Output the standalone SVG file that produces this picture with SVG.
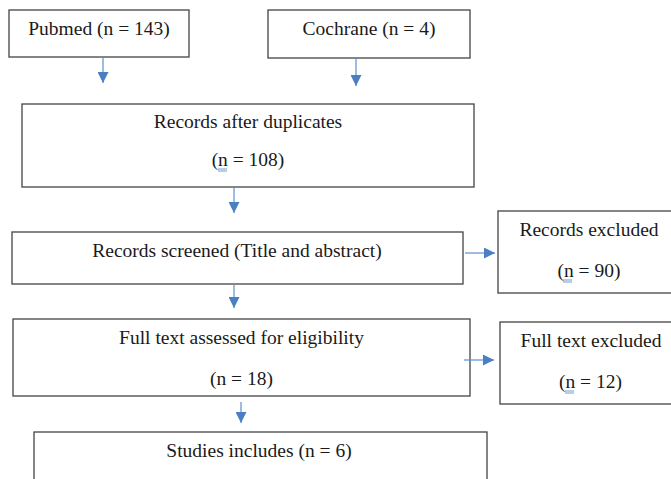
<svg xmlns="http://www.w3.org/2000/svg" width="671" height="479" viewBox="0 0 671 479">
<defs>
<style>
.box{fill:#fff;stroke:#444;stroke-width:1.3}
.t{font-size:19.5px;fill:#1a1a1a;text-anchor:middle}
.c{stroke:#5b8fd0;stroke-width:1.2;fill:none}
.sq{stroke:#5b8fd0;stroke-width:0.9}
</style>
<marker id="ah" markerUnits="userSpaceOnUse" markerWidth="11" markerHeight="11" viewBox="0 0 10 10" refX="10" refY="5" orient="auto">
<path d="M0,0 L10,5 L0,10 Z" fill="#4a7fc4"/>
</marker>
</defs>
<rect width="671" height="479" fill="#fff"/>
<g font-family="'Liberation Serif', 'Times New Roman', 'DejaVu Serif', serif">
<g id="pubmed"><rect class="box" x="9" y="10" width="180" height="47"/><text class="t" x="99" y="35">Pubmed (n = 143)</text></g>
<g id="cochrane"><rect class="box" x="268" y="10" width="202" height="48"/><text class="t" x="369" y="35">Cochrane (n = 4)</text></g>
<g id="duplicates"><rect class="box" x="22" y="104" width="452" height="83"/><text class="t" x="248" y="128">Records after duplicates</text><text class="t" x="248" y="166">(n = 108)</text><line class="sq" x1="218" y1="169" x2="227" y2="169"/><line class="sq" x1="218" y1="171" x2="227" y2="171"/></g>
<g id="screened"><rect class="box" x="12" y="232" width="451" height="52"/><text class="t" x="237" y="257">Records screened (Title and abstract)</text></g>
<g id="rexcluded"><rect class="box" x="498" y="211" width="190" height="82"/><text class="t" x="589" y="236">Records excluded</text><text class="t" x="589" y="277">(n = 90)</text><line class="sq" x1="563" y1="280" x2="572" y2="280"/><line class="sq" x1="563" y1="282" x2="572" y2="282"/></g>
<g id="fulltext"><rect class="box" x="13" y="319" width="457" height="77"/><text class="t" x="241.5" y="344">Full text assessed for eligibility</text><text class="t" x="241.5" y="385">(n = 18)</text></g>
<g id="fexcluded"><rect class="box" x="500" y="322" width="190" height="82"/><text class="t" x="591" y="347">Full text excluded</text><text class="t" x="590.5" y="388">(n = 12)</text><line class="sq" x1="565" y1="391" x2="574" y2="391"/><line class="sq" x1="565" y1="393" x2="574" y2="393"/></g>
<g id="included"><rect class="box" x="34" y="432" width="453" height="60"/><text class="t" x="259" y="457">Studies includes (n = 6)</text></g>
</g>
<g id="connectors">
<line class="c" x1="103" y1="57" x2="103" y2="83" marker-end="url(#ah)"/>
<line class="c" x1="356" y1="58" x2="356" y2="86" marker-end="url(#ah)"/>
<line class="c" x1="234" y1="188" x2="234" y2="213" marker-end="url(#ah)"/>
<line class="c" x1="465" y1="253" x2="495" y2="253" marker-end="url(#ah)"/>
<line class="c" x1="234" y1="285" x2="234" y2="308" marker-end="url(#ah)"/>
<line class="c" x1="464" y1="360" x2="494" y2="360" marker-end="url(#ah)"/>
<line class="c" x1="241" y1="402" x2="241" y2="423" marker-end="url(#ah)"/>
</g>
</svg>
